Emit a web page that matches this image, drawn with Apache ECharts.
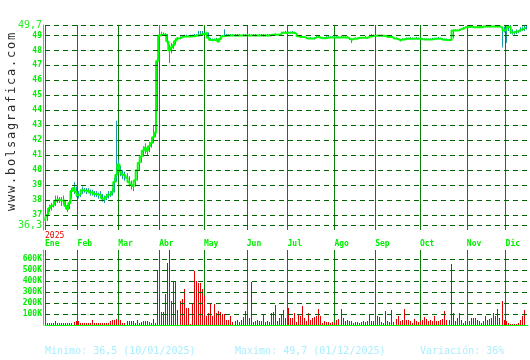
<!DOCTYPE html>
<html><head><meta charset="utf-8">
<script src="https://cdn.jsdelivr.net/npm/echarts@6/dist/echarts.min.js"></script>
<style>html,body{margin:0;padding:0;background:#fff}#c{width:530px;height:360px}</style>
</head><body><div id="c"></div>
<script>
// ---- data ----
const monthNames = ['Ene','Feb','Mar','Abr','May','Jun','Jul','Ago','Sep','Oct','Nov','Dic'];
const monthStarts = [0,16,36,56,78,99,119,142,162,184,207,226];
const yearLabel = '2025';
const nCats = 238;

const close = [
36.6,37.0,37.45,37.6,37.7,37.95,38.05,38.0,37.95,38.0,37.6,37.4,37.8,38.6,38.8,38.55,
38.33,38.4,38.65,38.65,38.6,38.67,38.5,38.55,38.4,38.4,38.35,38.35,38.1,38.05,38.2,38.35,38.35,38.55,39.2,39.7,
40.4,39.9,39.7,39.65,39.5,39.2,39.0,38.9,39.3,40.0,40.5,40.9,41.3,41.5,41.3,41.6,41.8,42.2,42.5,47.3,49.0,
49.05,49.05,49.05,48.6,48.0,48.2,48.35,48.65,48.8,48.82,48.9,48.93,48.93,48.93,48.93,48.95,48.95,49.0,49.0,49.05,
49.1,49.1,49.2,48.85,48.7,48.7,48.7,48.75,48.6,48.78,48.95,48.97,49.0,49.0,49.0,49.0,49.0,49.0,49.0,49.0,49.0,49.0,
49.0,49.0,49.0,49.0,49.0,49.0,49.0,49.0,49.0,49.0,49.0,49.0,49.05,49.05,49.05,49.05,49.05,49.18,49.18,49.18,49.18,
49.18,49.18,49.18,49.1,48.95,48.9,48.9,48.9,48.82,48.8,48.8,48.8,48.8,48.9,48.9,48.85,48.82,48.82,48.85,48.87,48.87,48.87,
48.87,48.87,48.87,48.87,48.87,48.87,48.87,48.8,48.7,48.78,48.78,48.8,48.85,48.85,48.85,48.85,48.85,48.93,48.93,48.98,48.98,
48.98,48.98,48.98,48.98,48.95,48.9,48.9,48.9,48.8,48.8,48.75,48.67,48.73,48.73,48.78,48.78,48.78,48.78,48.78,48.78,48.78,48.78,
48.75,48.73,48.73,48.73,48.73,48.75,48.78,48.78,48.78,48.78,48.72,48.72,48.7,48.7,48.7,49.33,49.33,49.33,49.35,49.45,49.45,49.55,
49.55,49.56,49.6,49.55,49.55,49.55,49.55,49.55,49.6,49.6,49.6,49.6,49.6,49.6,49.6,49.6,49.6,49.5,49.33,49.4,
49.56,49.56,49.2,49.2,49.27,49.27,49.4,49.4,49.5,49.5
];
const high = [
37.0,37.2,37.7,37.8,38.0,38.3,38.3,38.2,38.2,38.3,38.0,37.7,38.0,38.8,39.2,38.9,
38.6,38.7,38.9,38.8,38.8,38.8,38.7,38.7,38.6,38.6,38.5,38.6,38.4,38.3,38.4,38.6,38.6,38.8,39.5,43.3,
40.7,40.3,40.0,39.9,39.8,39.6,39.3,39.2,39.6,40.3,40.7,41.2,41.6,41.8,41.6,41.9,42.1,43.0,44.0,47.5,49.7,
49.25,49.2,49.15,49.1,48.4,48.5,48.6,48.8,48.9,48.95,49.0,49.05,49.05,49.0,49.05,49.05,49.1,49.1,49.3,49.3,
49.3,49.2,49.25,49.2,48.85,48.8,48.8,48.85,48.8,48.9,49.0,49.4,49.1,49.1,49.1,49.1,49.1,49.1,49.1,49.05,49.1,49.1,
49.1,49.1,49.05,49.1,49.1,49.05,49.1,49.1,49.1,49.05,49.1,49.1,49.1,49.1,49.15,49.1,49.1,49.25,49.25,49.3,49.25,
49.25,49.3,49.25,49.15,49.0,48.95,48.95,48.95,48.9,48.85,48.9,48.85,48.9,49.0,48.95,48.9,48.9,48.9,48.95,48.95,48.95,48.95,
48.95,48.95,48.95,49.0,48.95,48.95,48.95,48.9,48.8,48.85,48.85,48.85,48.9,48.9,48.9,48.95,48.9,49.05,49.1,49.05,49.05,
49.05,49.05,49.05,49.0,49.0,48.95,48.95,48.95,48.9,48.85,48.8,48.75,48.8,48.8,48.85,48.85,48.9,48.85,48.85,48.9,48.85,48.85,
48.85,48.8,48.8,48.8,48.8,48.85,48.85,48.85,48.9,48.85,48.8,48.8,48.8,48.75,48.8,49.4,49.4,49.4,49.45,49.5,49.55,49.6,
49.6,49.6,49.65,49.6,49.6,49.6,49.6,49.65,49.65,49.65,49.65,49.65,49.65,49.65,49.65,49.65,49.65,49.6,49.6,49.6,
49.7,49.7,49.4,49.3,49.4,49.35,49.55,49.6,49.7,49.7
];
const low = [
36.5,36.6,37.2,37.3,37.5,37.6,37.8,37.8,37.6,37.7,37.4,37.2,37.4,38.1,38.4,38.2,
38.1,38.2,38.4,38.5,38.4,38.5,38.3,38.3,38.2,38.2,38.1,38.2,37.9,37.8,38.0,38.1,38.2,38.3,38.5,39.2,
40.0,39.6,39.4,39.3,39.2,38.9,38.7,38.6,38.9,39.3,40.0,40.5,40.9,41.1,41.0,41.2,41.5,41.8,42.2,44.0,47.3,
48.95,49.0,48.9,48.4,47.15,47.8,48.1,48.4,48.7,48.75,48.85,48.9,48.9,48.9,48.9,48.9,48.9,48.95,48.95,49.0,
49.0,49.05,49.1,48.8,48.65,48.6,48.65,48.7,48.55,48.7,48.9,48.95,48.95,48.95,48.95,48.95,48.95,48.95,48.95,48.95,48.95,48.95,
48.95,48.95,48.95,48.95,48.95,48.95,48.95,48.95,48.95,48.95,48.95,48.95,49.0,49.0,49.0,49.0,49.0,49.15,49.15,49.15,49.15,
49.15,49.15,49.15,49.0,48.9,48.85,48.85,48.85,48.78,48.75,48.75,48.75,48.75,48.85,48.85,48.8,48.78,48.78,48.8,48.85,48.85,48.85,
48.85,48.85,48.85,48.85,48.85,48.85,48.85,48.7,48.5,48.7,48.75,48.75,48.8,48.8,48.8,48.8,48.8,48.9,48.9,48.95,48.95,
48.95,48.95,48.95,48.95,48.9,48.85,48.85,48.85,48.75,48.75,48.7,48.6,48.7,48.7,48.75,48.75,48.75,48.75,48.75,48.75,48.75,48.75,
48.7,48.7,48.7,48.7,48.7,48.7,48.75,48.75,48.75,48.75,48.68,48.68,48.65,48.65,48.65,48.8,49.3,49.3,49.3,49.4,49.4,49.5,
49.5,49.5,49.55,49.5,49.5,49.5,49.5,49.5,49.55,49.55,49.55,49.55,49.55,49.55,49.55,49.55,49.55,48.2,49.2,48.5,
49.3,49.1,49.05,49.05,49.1,49.15,49.25,49.3,49.3,49.4
];
// volume in thousands
const volume = [
20,20,15,20,20,41,20,20,20,15,20,20,20,15,26,35,
35,20,15,15,15,20,20,50,20,20,20,20,20,15,20,20,35,50,50,56,
50,50,20,20,35,35,35,35,20,50,15,26,41,35,35,26,20,56,20,497,283,
120,116,286,569,685,216,406,406,134,216,237,328,156,156,10,195,497,406,382,382,328,261,
80,110,195,80,190,110,125,118,103,103,46,42,80,25,33,46,25,46,70,132,86,
60,395,25,33,46,40,33,95,30,35,30,110,115,180,35,60,95,140,60,156,
65,65,110,26,95,80,177,65,35,110,50,65,74,86,147,80,20,35,26,26,20,26,
20,50,57,
147,65,35,50,41,35,15,26,26,20,26,35,26,41,95,35,35,20,86,74,26,20,132,35,26,140,26,57,80,41,50,150,50,50,35,20,57,35,26,40,50,74,56,35,50,35,86,35,35,50,56,125,50,50,557,
110,41,65,110,50,20,41,30,35,65,65,65,50,35,20,35,80,50,56,65,110,80,147,65,216,50,35,15,10,10,10,10,20,50,80,140,0
];
const priceLevels = [36.3,37,38,39,40,41,42,43,44,45,46,47,48,49,49.7];
const volLevels = [100,200,300,400,500,600];
const priceMin = 36.0, priceMax = 49.7, volMax = 685;
const siteText = 'www.bolsagrafica.com';
const statMin = 'Minimo: 36,5 (10/01/2025)';
const statMax = 'Maximo: 49,7 (01/12/2025)';
const statVar = 'Variación: 36%';

// ---- chart ----
const FONT = 'DejaVu Sans Mono';
const LIME = '#00ee00';
const cats = Array.from({length: nCats}, (_, i) => String(i));
const isMonth = (i) => monthStarts.indexOf(i) >= 0;
const hl = close.map((c, i) => [i, low[i], high[i]]);
const vol = volume.map((v, i) => [i, v]);

const gridLineStyle = {color: '#006400', width: 1, type: [5, 4]};

const chart = echarts.init(document.getElementById('c'), null, {renderer: 'canvas'});
chart.setOption({
  animation: false,
  backgroundColor: '#ffffff',
  grid: [
    {left: 45, right: 2, top: 25, bottom: 130},
    {left: 45, right: 2, top: 250, bottom: 35}
  ],
  xAxis: [
    {gridIndex: 0, type: 'category', data: cats, boundaryGap: false,
     axisLine: {show: false}, axisTick: {show: false},
     axisLabel: {interval: (i) => isMonth(i), formatter: (v, i) => monthNames[monthStarts.indexOf(i)] || '',
       align: 'left', color: LIME, fontFamily: FONT, fontSize: 8, fontWeight: 'bold', margin: 10},
     splitLine: {show: true, interval: (i) => isMonth(i), lineStyle: {color: '#0a800a', width: 1}}},
    {gridIndex: 1, type: 'category', data: cats, boundaryGap: false,
     axisLine: {show: true, lineStyle: {color: '#00ff00', width: 1}}, axisTick: {show: false},
     axisLabel: {show: false},
     splitLine: {show: true, interval: (i) => isMonth(i), lineStyle: {color: '#0a800a', width: 1}}}
  ],
  yAxis: [
    {gridIndex: 0, type: 'value', min: priceMin, max: priceMax, offset: 2,
     axisLine: {show: true, lineStyle: {color: '#00ff00', width: 1}}, axisTick: {show: false},
     axisLabel: {show: false}, splitLine: {show: false}},
    {gridIndex: 1, type: 'value', min: 0, max: volMax, offset: 2,
     axisLine: {show: true, lineStyle: {color: '#00ff00', width: 1}}, axisTick: {show: false},
     axisLabel: {show: false}, splitLine: {show: false}}
  ],
  series: [
    {type: 'custom', xAxisIndex: 0, yAxisIndex: 0, data: hl, encode: {x: 0, y: [1, 2]}, z: 2, silent: true,
     renderItem: function (params, api) {
       const a = api.coord([api.value(0), api.value(1)]);
       const b = api.coord([api.value(0), api.value(2)]);
       const x = Math.round(a[0]) + 0.5;
       return {type: 'line', shape: {x1: x, y1: a[1], x2: x, y2: b[1]},
               style: {stroke: '#1a9aaa', lineWidth: 1, fill: null}};
     }},
    {type: 'line', xAxisIndex: 0, yAxisIndex: 0, data: close, step: 'middle', symbol: 'none', z: 3, silent: true,
     lineStyle: {color: '#00ff00', width: 2},
     markLine: {silent: true, symbol: ['none', 'none'], animation: false,
       lineStyle: gridLineStyle,
       label: {position: 'start', distance: 3,
         formatter: (p) => Number.isInteger(p.value) ? '{s|' + p.value + '}' : '{b|' + String(p.value).replace('.', ',') + '}',
         rich: {s: {color: LIME, fontFamily: FONT, fontSize: 8, fontWeight: 'bold'},
                b: {color: '#22ee22', fontFamily: FONT, fontSize: 10}}},
       emphasis: {disabled: true},
       data: priceLevels.map(v => ({yAxis: v}))}},
    {type: 'custom', xAxisIndex: 1, yAxisIndex: 1, data: vol, encode: {x: 0, y: 1}, z: 2, silent: true,
     renderItem: function (params, api) {
       const t = api.coord([api.value(0), api.value(1)]);
       const b = api.coord([api.value(0), 0]);
       const x = Math.round(t[0]) + 0.5;
       return {type: 'line', shape: {x1: x, y1: Math.round(t[1]), x2: x, y2: Math.round(b[1])},
               style: {stroke: '#e00000', lineWidth: 1, fill: null}};
     },
     markLine: {silent: true, symbol: ['none', 'none'], animation: false,
       lineStyle: gridLineStyle,
       label: {position: 'start', distance: 3, formatter: (p) => p.value + 'K',
         color: LIME, fontFamily: FONT, fontSize: 8, fontWeight: 'bold'},
       emphasis: {disabled: true},
       data: volLevels.map(v => ({yAxis: v}))}}
  ],
  graphic: [
    {type: 'text', x: 12, y: 122, rotation: Math.PI / 2, silent: true,
     style: {text: siteText.split('').map(ch => '{c|' + ch + '}').join(''),
       rich: {c: {width: 9, align: 'center', fontFamily: FONT, fontSize: 12, fill: '#2a2a2a'}},
       align: 'center', verticalAlign: 'middle'}},
    {type: 'text', x: 45, y: 236, silent: true,
     style: {text: yearLabel, fill: '#e00000', fontFamily: FONT, fontSize: 8, verticalAlign: 'middle'}},
    {type: 'text', x: 45, y: 351, silent: true,
     style: {text: statMin, fill: '#aaeeff', fontFamily: FONT, fontSize: 10, verticalAlign: 'middle'}},
    {type: 'text', x: 235, y: 351, silent: true,
     style: {text: statMax, fill: '#aaeeff', fontFamily: FONT, fontSize: 10, verticalAlign: 'middle'}},
    {type: 'text', x: 420, y: 351, silent: true,
     style: {text: statVar, fill: '#aaeeff', fontFamily: FONT, fontSize: 10, verticalAlign: 'middle'}}
  ]
});
</script></body></html>
